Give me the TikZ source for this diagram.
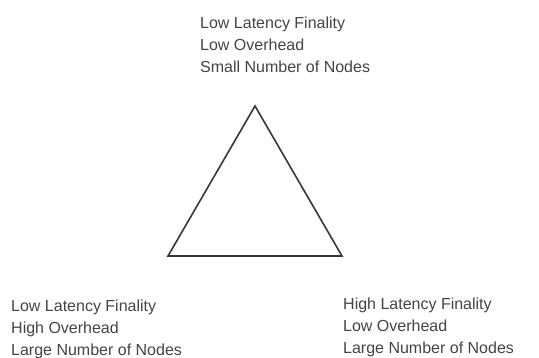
\documentclass[tikz,border=0pt]{standalone}
\usepackage{fontspec}
\setmainfont{Liberation Sans}
\usepackage{tikz}
\usetikzlibrary{calc}
\usepackage{xcolor}
\definecolor{txt}{RGB}{68,68,68}
\definecolor{edge}{RGB}{55,55,55}

\begin{document}
\begin{tikzpicture}[x=1pt,y=-1pt,
  lbl/.style={anchor=north west,inner sep=0pt,align=left,text=txt,
    font=\fontsize{16}{22}\selectfont}]
  \useasboundingbox (0,0) rectangle (539,358);
  \coordinate (T) at (255,106);
  \coordinate (L) at (168,256);
  \coordinate (R) at (342,256);
  \draw[edge,line width=1.6pt,line join=miter] (T) -- (L) -- (R) -- cycle;
  \node[lbl] (top) at (200,16.3) {Low Latency Finality\\Low Overhead\\Small Number of Nodes};
  \node[lbl] (left) at (11,299.3) {Low Latency Finality\\High Overhead\\Large Number of Nodes};
  \node[lbl] (right) at (343,297.3) {High Latency Finality\\Low Overhead\\Large Number of Nodes};
\end{tikzpicture}
\end{document}
